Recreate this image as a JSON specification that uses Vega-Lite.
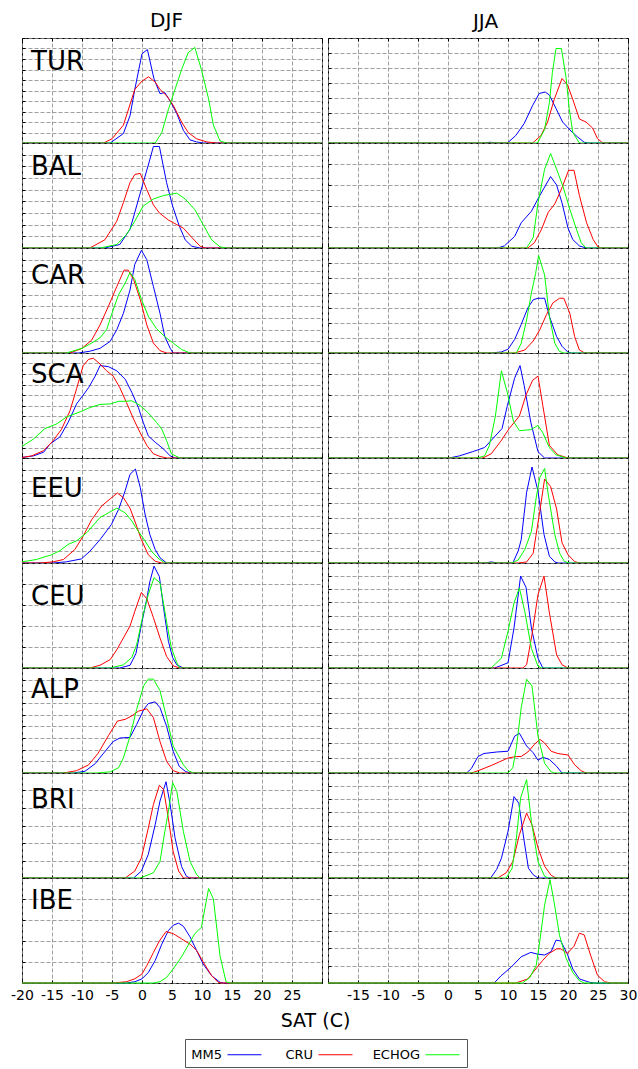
{
"$schema":"https://vega.github.io/schema/vega-lite/v6.json",
"padding":{"left":10,"top":9,"right":0,"bottom":0},
"background":"white",
"data":{"values":[
{"r":"TUR","s":"DJF","m":"MM5","x":-20,"y":0},{"r":"TUR","s":"DJF","m":"MM5","x":-5.3,"y":0},{"r":"TUR","s":"DJF","m":"MM5","x":-3.1,"y":0.9},{"r":"TUR","s":"DJF","m":"MM5","x":-2,"y":2.6},{"r":"TUR","s":"DJF","m":"MM5","x":-1.2,"y":5.1},{"r":"TUR","s":"DJF","m":"MM5","x":0,"y":8.5},{"r":"TUR","s":"DJF","m":"MM5","x":0.9,"y":8.9},{"r":"TUR","s":"DJF","m":"MM5","x":2,"y":6.1},{"r":"TUR","s":"DJF","m":"MM5","x":3,"y":4.7},{"r":"TUR","s":"DJF","m":"MM5","x":3.8,"y":4.8},{"r":"TUR","s":"DJF","m":"MM5","x":4.7,"y":4.0},{"r":"TUR","s":"DJF","m":"MM5","x":5.8,"y":2.8},{"r":"TUR","s":"DJF","m":"MM5","x":6.9,"y":1.2},{"r":"TUR","s":"DJF","m":"MM5","x":8,"y":0.3},{"r":"TUR","s":"DJF","m":"MM5","x":9.1,"y":0.1},{"r":"TUR","s":"DJF","m":"MM5","x":10.2,"y":0},{"r":"TUR","s":"DJF","m":"MM5","x":30,"y":0},
{"r":"TUR","s":"DJF","m":"CRU","x":-20,"y":0},{"r":"TUR","s":"DJF","m":"CRU","x":-6.4,"y":0},{"r":"TUR","s":"DJF","m":"CRU","x":-5,"y":0.4},{"r":"TUR","s":"DJF","m":"CRU","x":-3.1,"y":1.7},{"r":"TUR","s":"DJF","m":"CRU","x":-1.2,"y":5.1},{"r":"TUR","s":"DJF","m":"CRU","x":0,"y":5.9},{"r":"TUR","s":"DJF","m":"CRU","x":1.1,"y":6.3},{"r":"TUR","s":"DJF","m":"CRU","x":2.2,"y":5.8},{"r":"TUR","s":"DJF","m":"CRU","x":3,"y":5.1},{"r":"TUR","s":"DJF","m":"CRU","x":4.1,"y":4.5},{"r":"TUR","s":"DJF","m":"CRU","x":5.2,"y":3.6},{"r":"TUR","s":"DJF","m":"CRU","x":6.6,"y":2.0},{"r":"TUR","s":"DJF","m":"CRU","x":7.7,"y":1.0},{"r":"TUR","s":"DJF","m":"CRU","x":9.1,"y":0.4},{"r":"TUR","s":"DJF","m":"CRU","x":10.8,"y":0.1},{"r":"TUR","s":"DJF","m":"CRU","x":12.4,"y":0},{"r":"TUR","s":"DJF","m":"CRU","x":30,"y":0},
{"r":"TUR","s":"DJF","m":"ECHOG","x":-20,"y":0},{"r":"TUR","s":"DJF","m":"ECHOG","x":2.2,"y":0},{"r":"TUR","s":"DJF","m":"ECHOG","x":3.3,"y":1.0},{"r":"TUR","s":"DJF","m":"ECHOG","x":4.4,"y":3.2},{"r":"TUR","s":"DJF","m":"ECHOG","x":5.5,"y":5.1},{"r":"TUR","s":"DJF","m":"ECHOG","x":6.6,"y":7.0},{"r":"TUR","s":"DJF","m":"ECHOG","x":7.7,"y":8.6},{"r":"TUR","s":"DJF","m":"ECHOG","x":8.8,"y":9.1},{"r":"TUR","s":"DJF","m":"ECHOG","x":9.9,"y":7.0},{"r":"TUR","s":"DJF","m":"ECHOG","x":11.1,"y":4.2},{"r":"TUR","s":"DJF","m":"ECHOG","x":11.9,"y":1.7},{"r":"TUR","s":"DJF","m":"ECHOG","x":13,"y":0.2},{"r":"TUR","s":"DJF","m":"ECHOG","x":14.1,"y":0},{"r":"TUR","s":"DJF","m":"ECHOG","x":30,"y":0},

{"r":"TUR","s":"JJA","m":"MM5","x":-20,"y":0},{"r":"TUR","s":"JJA","m":"MM5","x":6,"y":0},{"r":"TUR","s":"JJA","m":"MM5","x":7,"y":0.05},{"r":"TUR","s":"JJA","m":"MM5","x":8,"y":0},{"r":"TUR","s":"JJA","m":"MM5","x":9.9,"y":0},{"r":"TUR","s":"JJA","m":"MM5","x":11.3,"y":0.5},{"r":"TUR","s":"JJA","m":"MM5","x":12.7,"y":1.3},{"r":"TUR","s":"JJA","m":"MM5","x":14.1,"y":2.5},{"r":"TUR","s":"JJA","m":"MM5","x":15.2,"y":3.3},{"r":"TUR","s":"JJA","m":"MM5","x":16.2,"y":3.4},{"r":"TUR","s":"JJA","m":"MM5","x":16.9,"y":3.2},{"r":"TUR","s":"JJA","m":"MM5","x":18,"y":2.3},{"r":"TUR","s":"JJA","m":"MM5","x":19.1,"y":1.4},{"r":"TUR","s":"JJA","m":"MM5","x":20.5,"y":0.8},{"r":"TUR","s":"JJA","m":"MM5","x":21.6,"y":0.4},{"r":"TUR","s":"JJA","m":"MM5","x":22.7,"y":0.05},{"r":"TUR","s":"JJA","m":"MM5","x":23.5,"y":0},{"r":"TUR","s":"JJA","m":"MM5","x":30,"y":0},
{"r":"TUR","s":"JJA","m":"CRU","x":-20,"y":0},{"r":"TUR","s":"JJA","m":"CRU","x":14.1,"y":0},{"r":"TUR","s":"JJA","m":"CRU","x":15.5,"y":0.5},{"r":"TUR","s":"JJA","m":"CRU","x":16.6,"y":1.4},{"r":"TUR","s":"JJA","m":"CRU","x":17.7,"y":2.9},{"r":"TUR","s":"JJA","m":"CRU","x":19,"y":4.3},{"r":"TUR","s":"JJA","m":"CRU","x":19.9,"y":3.9},{"r":"TUR","s":"JJA","m":"CRU","x":20.8,"y":2.9},{"r":"TUR","s":"JJA","m":"CRU","x":21.9,"y":1.6},{"r":"TUR","s":"JJA","m":"CRU","x":23,"y":1.4},{"r":"TUR","s":"JJA","m":"CRU","x":24.1,"y":1.0},{"r":"TUR","s":"JJA","m":"CRU","x":24.9,"y":0.3},{"r":"TUR","s":"JJA","m":"CRU","x":25.8,"y":0},{"r":"TUR","s":"JJA","m":"CRU","x":30,"y":0},
{"r":"TUR","s":"JJA","m":"ECHOG","x":-20,"y":0},{"r":"TUR","s":"JJA","m":"ECHOG","x":14.9,"y":0},{"r":"TUR","s":"JJA","m":"ECHOG","x":16.1,"y":0.9},{"r":"TUR","s":"JJA","m":"ECHOG","x":16.9,"y":2.7},{"r":"TUR","s":"JJA","m":"ECHOG","x":17.4,"y":4.7},{"r":"TUR","s":"JJA","m":"ECHOG","x":18,"y":6.3},{"r":"TUR","s":"JJA","m":"ECHOG","x":18.9,"y":6.3},{"r":"TUR","s":"JJA","m":"ECHOG","x":19.7,"y":4.3},{"r":"TUR","s":"JJA","m":"ECHOG","x":20.2,"y":2.3},{"r":"TUR","s":"JJA","m":"ECHOG","x":20.8,"y":0.7},{"r":"TUR","s":"JJA","m":"ECHOG","x":21.9,"y":0},{"r":"TUR","s":"JJA","m":"ECHOG","x":30,"y":0},

{"r":"BAL","s":"DJF","m":"MM5","x":-20,"y":0},{"r":"BAL","s":"DJF","m":"MM5","x":-6.2,"y":0},{"r":"BAL","s":"DJF","m":"MM5","x":-3.7,"y":0.3},{"r":"BAL","s":"DJF","m":"MM5","x":-2,"y":1.6},{"r":"BAL","s":"DJF","m":"MM5","x":-0.9,"y":3.6},{"r":"BAL","s":"DJF","m":"MM5","x":0.2,"y":5.6},{"r":"BAL","s":"DJF","m":"MM5","x":1.1,"y":7.2},{"r":"BAL","s":"DJF","m":"MM5","x":1.9,"y":8.7},{"r":"BAL","s":"DJF","m":"MM5","x":2.9,"y":8.7},{"r":"BAL","s":"DJF","m":"MM5","x":4.1,"y":5.6},{"r":"BAL","s":"DJF","m":"MM5","x":5.1,"y":3.6},{"r":"BAL","s":"DJF","m":"MM5","x":6.2,"y":1.9},{"r":"BAL","s":"DJF","m":"MM5","x":7.2,"y":0.7},{"r":"BAL","s":"DJF","m":"MM5","x":8.3,"y":0.15},{"r":"BAL","s":"DJF","m":"MM5","x":9.7,"y":0},{"r":"BAL","s":"DJF","m":"MM5","x":30,"y":0},
{"r":"BAL","s":"DJF","m":"CRU","x":-20,"y":0},{"r":"BAL","s":"DJF","m":"CRU","x":-8.7,"y":0},{"r":"BAL","s":"DJF","m":"CRU","x":-6.2,"y":0.7},{"r":"BAL","s":"DJF","m":"CRU","x":-4.2,"y":2.3},{"r":"BAL","s":"DJF","m":"CRU","x":-3.1,"y":3.9},{"r":"BAL","s":"DJF","m":"CRU","x":-2,"y":5.6},{"r":"BAL","s":"DJF","m":"CRU","x":-1.2,"y":6.3},{"r":"BAL","s":"DJF","m":"CRU","x":-0.3,"y":6.4},{"r":"BAL","s":"DJF","m":"CRU","x":0.8,"y":5.0},{"r":"BAL","s":"DJF","m":"CRU","x":1.9,"y":3.7},{"r":"BAL","s":"DJF","m":"CRU","x":2.9,"y":3.0},{"r":"BAL","s":"DJF","m":"CRU","x":4.4,"y":2.4},{"r":"BAL","s":"DJF","m":"CRU","x":5.8,"y":2.0},{"r":"BAL","s":"DJF","m":"CRU","x":6.9,"y":1.7},{"r":"BAL","s":"DJF","m":"CRU","x":8.3,"y":0.9},{"r":"BAL","s":"DJF","m":"CRU","x":9.7,"y":0.15},{"r":"BAL","s":"DJF","m":"CRU","x":10.5,"y":0},{"r":"BAL","s":"DJF","m":"CRU","x":30,"y":0},
{"r":"BAL","s":"DJF","m":"ECHOG","x":-20,"y":0},{"r":"BAL","s":"DJF","m":"ECHOG","x":-7,"y":0},{"r":"BAL","s":"DJF","m":"ECHOG","x":-4.2,"y":0.3},{"r":"BAL","s":"DJF","m":"ECHOG","x":-2.6,"y":1.15},{"r":"BAL","s":"DJF","m":"ECHOG","x":-1.2,"y":2.3},{"r":"BAL","s":"DJF","m":"ECHOG","x":0.2,"y":3.6},{"r":"BAL","s":"DJF","m":"ECHOG","x":1.9,"y":4.2},{"r":"BAL","s":"DJF","m":"ECHOG","x":3.6,"y":4.5},{"r":"BAL","s":"DJF","m":"ECHOG","x":5.8,"y":4.7},{"r":"BAL","s":"DJF","m":"ECHOG","x":7.2,"y":4.2},{"r":"BAL","s":"DJF","m":"ECHOG","x":8.8,"y":3.3},{"r":"BAL","s":"DJF","m":"ECHOG","x":10.2,"y":2.0},{"r":"BAL","s":"DJF","m":"ECHOG","x":11.6,"y":0.7},{"r":"BAL","s":"DJF","m":"ECHOG","x":13,"y":0.1},{"r":"BAL","s":"DJF","m":"ECHOG","x":14.1,"y":0},{"r":"BAL","s":"DJF","m":"ECHOG","x":30,"y":0},

{"r":"BAL","s":"JJA","m":"MM5","x":-20,"y":0},{"r":"BAL","s":"JJA","m":"MM5","x":8.3,"y":0},{"r":"BAL","s":"JJA","m":"MM5","x":9.4,"y":0.1},{"r":"BAL","s":"JJA","m":"MM5","x":11.1,"y":0.55},{"r":"BAL","s":"JJA","m":"MM5","x":12.2,"y":1.2},{"r":"BAL","s":"JJA","m":"MM5","x":13.9,"y":1.75},{"r":"BAL","s":"JJA","m":"MM5","x":15.3,"y":2.5},{"r":"BAL","s":"JJA","m":"MM5","x":16.2,"y":2.95},{"r":"BAL","s":"JJA","m":"MM5","x":17.1,"y":3.4},{"r":"BAL","s":"JJA","m":"MM5","x":18.1,"y":3.0},{"r":"BAL","s":"JJA","m":"MM5","x":19,"y":2.15},{"r":"BAL","s":"JJA","m":"MM5","x":20,"y":0.95},{"r":"BAL","s":"JJA","m":"MM5","x":20.8,"y":0.4},{"r":"BAL","s":"JJA","m":"MM5","x":21.9,"y":0.1},{"r":"BAL","s":"JJA","m":"MM5","x":23,"y":0},{"r":"BAL","s":"JJA","m":"MM5","x":30,"y":0},
{"r":"BAL","s":"JJA","m":"CRU","x":-20,"y":0},{"r":"BAL","s":"JJA","m":"CRU","x":13.3,"y":0},{"r":"BAL","s":"JJA","m":"CRU","x":14.4,"y":0.25},{"r":"BAL","s":"JJA","m":"CRU","x":15.6,"y":0.9},{"r":"BAL","s":"JJA","m":"CRU","x":16.7,"y":1.7},{"r":"BAL","s":"JJA","m":"CRU","x":17.8,"y":2.1},{"r":"BAL","s":"JJA","m":"CRU","x":18.9,"y":2.8},{"r":"BAL","s":"JJA","m":"CRU","x":20.1,"y":3.7},{"r":"BAL","s":"JJA","m":"CRU","x":21,"y":3.7},{"r":"BAL","s":"JJA","m":"CRU","x":21.9,"y":2.5},{"r":"BAL","s":"JJA","m":"CRU","x":23.1,"y":1.2},{"r":"BAL","s":"JJA","m":"CRU","x":24.2,"y":0.4},{"r":"BAL","s":"JJA","m":"CRU","x":25,"y":0.05},{"r":"BAL","s":"JJA","m":"CRU","x":25.6,"y":0},{"r":"BAL","s":"JJA","m":"CRU","x":30,"y":0},
{"r":"BAL","s":"JJA","m":"ECHOG","x":-20,"y":0},{"r":"BAL","s":"JJA","m":"ECHOG","x":13.1,"y":0},{"r":"BAL","s":"JJA","m":"ECHOG","x":14.2,"y":0.5},{"r":"BAL","s":"JJA","m":"ECHOG","x":15,"y":2.15},{"r":"BAL","s":"JJA","m":"ECHOG","x":16.1,"y":3.75},{"r":"BAL","s":"JJA","m":"ECHOG","x":17.1,"y":4.5},{"r":"BAL","s":"JJA","m":"ECHOG","x":18.1,"y":3.75},{"r":"BAL","s":"JJA","m":"ECHOG","x":19.2,"y":2.9},{"r":"BAL","s":"JJA","m":"ECHOG","x":20.3,"y":1.85},{"r":"BAL","s":"JJA","m":"ECHOG","x":21.4,"y":0.9},{"r":"BAL","s":"JJA","m":"ECHOG","x":22.2,"y":0.25},{"r":"BAL","s":"JJA","m":"ECHOG","x":23,"y":0},{"r":"BAL","s":"JJA","m":"ECHOG","x":30,"y":0},

{"r":"CAR","s":"DJF","m":"MM5","x":-20,"y":0},{"r":"CAR","s":"DJF","m":"MM5","x":-10.6,"y":0},{"r":"CAR","s":"DJF","m":"MM5","x":-8.7,"y":0.15},{"r":"CAR","s":"DJF","m":"MM5","x":-7,"y":0.4},{"r":"CAR","s":"DJF","m":"MM5","x":-5.3,"y":1.0},{"r":"CAR","s":"DJF","m":"MM5","x":-4.2,"y":2.0},{"r":"CAR","s":"DJF","m":"MM5","x":-3.1,"y":3.4},{"r":"CAR","s":"DJF","m":"MM5","x":-2,"y":5.4},{"r":"CAR","s":"DJF","m":"MM5","x":-1.2,"y":7.6},{"r":"CAR","s":"DJF","m":"MM5","x":-0.1,"y":8.8},{"r":"CAR","s":"DJF","m":"MM5","x":0.8,"y":8.0},{"r":"CAR","s":"DJF","m":"MM5","x":1.9,"y":5.7},{"r":"CAR","s":"DJF","m":"MM5","x":3,"y":3.4},{"r":"CAR","s":"DJF","m":"MM5","x":3.8,"y":1.4},{"r":"CAR","s":"DJF","m":"MM5","x":4.7,"y":0.4},{"r":"CAR","s":"DJF","m":"MM5","x":5.2,"y":0},{"r":"CAR","s":"DJF","m":"MM5","x":30,"y":0},
{"r":"CAR","s":"DJF","m":"CRU","x":-20,"y":0},{"r":"CAR","s":"DJF","m":"CRU","x":-12,"y":0},{"r":"CAR","s":"DJF","m":"CRU","x":-10,"y":0.4},{"r":"CAR","s":"DJF","m":"CRU","x":-8.4,"y":1.1},{"r":"CAR","s":"DJF","m":"CRU","x":-7,"y":2.4},{"r":"CAR","s":"DJF","m":"CRU","x":-5.6,"y":4.0},{"r":"CAR","s":"DJF","m":"CRU","x":-4.2,"y":5.7},{"r":"CAR","s":"DJF","m":"CRU","x":-3,"y":7.1},{"r":"CAR","s":"DJF","m":"CRU","x":-2.3,"y":7.1},{"r":"CAR","s":"DJF","m":"CRU","x":-1.4,"y":6.3},{"r":"CAR","s":"DJF","m":"CRU","x":-0.3,"y":4.6},{"r":"CAR","s":"DJF","m":"CRU","x":0.8,"y":2.4},{"r":"CAR","s":"DJF","m":"CRU","x":1.9,"y":0.85},{"r":"CAR","s":"DJF","m":"CRU","x":3,"y":0.2},{"r":"CAR","s":"DJF","m":"CRU","x":4.1,"y":0},{"r":"CAR","s":"DJF","m":"CRU","x":30,"y":0},
{"r":"CAR","s":"DJF","m":"ECHOG","x":-20,"y":0},{"r":"CAR","s":"DJF","m":"ECHOG","x":-12.6,"y":0},{"r":"CAR","s":"DJF","m":"ECHOG","x":-10,"y":0.4},{"r":"CAR","s":"DJF","m":"ECHOG","x":-8.4,"y":0.85},{"r":"CAR","s":"DJF","m":"ECHOG","x":-7,"y":1.3},{"r":"CAR","s":"DJF","m":"ECHOG","x":-5.9,"y":2.0},{"r":"CAR","s":"DJF","m":"ECHOG","x":-4.8,"y":3.7},{"r":"CAR","s":"DJF","m":"ECHOG","x":-3.9,"y":5.0},{"r":"CAR","s":"DJF","m":"ECHOG","x":-2.8,"y":6.0},{"r":"CAR","s":"DJF","m":"ECHOG","x":-2,"y":6.9},{"r":"CAR","s":"DJF","m":"ECHOG","x":-1.2,"y":6.3},{"r":"CAR","s":"DJF","m":"ECHOG","x":-0.1,"y":4.6},{"r":"CAR","s":"DJF","m":"ECHOG","x":1.1,"y":3.1},{"r":"CAR","s":"DJF","m":"ECHOG","x":2.4,"y":2.1},{"r":"CAR","s":"DJF","m":"ECHOG","x":3.8,"y":1.4},{"r":"CAR","s":"DJF","m":"ECHOG","x":5.2,"y":0.85},{"r":"CAR","s":"DJF","m":"ECHOG","x":6.6,"y":0.3},{"r":"CAR","s":"DJF","m":"ECHOG","x":8,"y":0},{"r":"CAR","s":"DJF","m":"ECHOG","x":30,"y":0},

{"r":"CAR","s":"JJA","m":"MM5","x":-20,"y":0},{"r":"CAR","s":"JJA","m":"MM5","x":7.2,"y":0},{"r":"CAR","s":"JJA","m":"MM5","x":8.9,"y":0.07},{"r":"CAR","s":"JJA","m":"MM5","x":10,"y":0.25},{"r":"CAR","s":"JJA","m":"MM5","x":11.1,"y":0.9},{"r":"CAR","s":"JJA","m":"MM5","x":12.2,"y":1.9},{"r":"CAR","s":"JJA","m":"MM5","x":13.3,"y":3.0},{"r":"CAR","s":"JJA","m":"MM5","x":14.2,"y":3.55},{"r":"CAR","s":"JJA","m":"MM5","x":15,"y":3.65},{"r":"CAR","s":"JJA","m":"MM5","x":16.1,"y":3.65},{"r":"CAR","s":"JJA","m":"MM5","x":16.9,"y":2.45},{"r":"CAR","s":"JJA","m":"MM5","x":18.1,"y":1.1},{"r":"CAR","s":"JJA","m":"MM5","x":19,"y":0.45},{"r":"CAR","s":"JJA","m":"MM5","x":20,"y":0.05},{"r":"CAR","s":"JJA","m":"MM5","x":20.6,"y":0},{"r":"CAR","s":"JJA","m":"MM5","x":30,"y":0},
{"r":"CAR","s":"JJA","m":"CRU","x":-20,"y":0},{"r":"CAR","s":"JJA","m":"CRU","x":11.1,"y":0},{"r":"CAR","s":"JJA","m":"CRU","x":12.8,"y":0.2},{"r":"CAR","s":"JJA","m":"CRU","x":14.2,"y":0.8},{"r":"CAR","s":"JJA","m":"CRU","x":15.3,"y":1.55},{"r":"CAR","s":"JJA","m":"CRU","x":16.4,"y":2.55},{"r":"CAR","s":"JJA","m":"CRU","x":17.5,"y":3.35},{"r":"CAR","s":"JJA","m":"CRU","x":18.6,"y":3.65},{"r":"CAR","s":"JJA","m":"CRU","x":19.3,"y":3.65},{"r":"CAR","s":"JJA","m":"CRU","x":20.3,"y":2.65},{"r":"CAR","s":"JJA","m":"CRU","x":21.1,"y":1.1},{"r":"CAR","s":"JJA","m":"CRU","x":21.9,"y":0.2},{"r":"CAR","s":"JJA","m":"CRU","x":22.8,"y":0},{"r":"CAR","s":"JJA","m":"CRU","x":30,"y":0},
{"r":"CAR","s":"JJA","m":"ECHOG","x":-20,"y":0},{"r":"CAR","s":"JJA","m":"ECHOG","x":11.4,"y":0},{"r":"CAR","s":"JJA","m":"ECHOG","x":12.2,"y":0.65},{"r":"CAR","s":"JJA","m":"ECHOG","x":13.1,"y":2.2},{"r":"CAR","s":"JJA","m":"ECHOG","x":13.9,"y":4.0},{"r":"CAR","s":"JJA","m":"ECHOG","x":14.6,"y":5.3},{"r":"CAR","s":"JJA","m":"ECHOG","x":15.1,"y":6.5},{"r":"CAR","s":"JJA","m":"ECHOG","x":16.1,"y":5.2},{"r":"CAR","s":"JJA","m":"ECHOG","x":16.9,"y":2.45},{"r":"CAR","s":"JJA","m":"ECHOG","x":17.8,"y":0.65},{"r":"CAR","s":"JJA","m":"ECHOG","x":18.6,"y":0.1},{"r":"CAR","s":"JJA","m":"ECHOG","x":19.4,"y":0},{"r":"CAR","s":"JJA","m":"ECHOG","x":30,"y":0},

{"r":"SCA","s":"DJF","m":"MM5","x":-20,"y":0.05},{"r":"SCA","s":"DJF","m":"MM5","x":-18.1,"y":0.2},{"r":"SCA","s":"DJF","m":"MM5","x":-16.4,"y":0.55},{"r":"SCA","s":"DJF","m":"MM5","x":-15.3,"y":1.35},{"r":"SCA","s":"DJF","m":"MM5","x":-13.7,"y":2.0},{"r":"SCA","s":"DJF","m":"MM5","x":-12.3,"y":3.4},{"r":"SCA","s":"DJF","m":"MM5","x":-10.9,"y":5.15},{"r":"SCA","s":"DJF","m":"MM5","x":-8.9,"y":6.7},{"r":"SCA","s":"DJF","m":"MM5","x":-7.8,"y":7.8},{"r":"SCA","s":"DJF","m":"MM5","x":-7,"y":8.8},{"r":"SCA","s":"DJF","m":"MM5","x":-5.6,"y":8.7},{"r":"SCA","s":"DJF","m":"MM5","x":-4.2,"y":8.3},{"r":"SCA","s":"DJF","m":"MM5","x":-2.8,"y":7.5},{"r":"SCA","s":"DJF","m":"MM5","x":-1.7,"y":6.25},{"r":"SCA","s":"DJF","m":"MM5","x":-0.6,"y":4.8},{"r":"SCA","s":"DJF","m":"MM5","x":0.2,"y":3.4},{"r":"SCA","s":"DJF","m":"MM5","x":1.05,"y":2.1},{"r":"SCA","s":"DJF","m":"MM5","x":2.2,"y":1.5},{"r":"SCA","s":"DJF","m":"MM5","x":3.6,"y":0.85},{"r":"SCA","s":"DJF","m":"MM5","x":4.7,"y":0.2},{"r":"SCA","s":"DJF","m":"MM5","x":5.5,"y":0},{"r":"SCA","s":"DJF","m":"MM5","x":30,"y":0},
{"r":"SCA","s":"DJF","m":"CRU","x":-20,"y":0.05},{"r":"SCA","s":"DJF","m":"CRU","x":-18.4,"y":0.2},{"r":"SCA","s":"DJF","m":"CRU","x":-16.4,"y":0.7},{"r":"SCA","s":"DJF","m":"CRU","x":-14.8,"y":1.65},{"r":"SCA","s":"DJF","m":"CRU","x":-13.4,"y":2.75},{"r":"SCA","s":"DJF","m":"CRU","x":-12,"y":4.5},{"r":"SCA","s":"DJF","m":"CRU","x":-10.9,"y":6.6},{"r":"SCA","s":"DJF","m":"CRU","x":-9.8,"y":8.8},{"r":"SCA","s":"DJF","m":"CRU","x":-8.9,"y":9.4},{"r":"SCA","s":"DJF","m":"CRU","x":-8.1,"y":9.5},{"r":"SCA","s":"DJF","m":"CRU","x":-7,"y":8.95},{"r":"SCA","s":"DJF","m":"CRU","x":-5.9,"y":8.3},{"r":"SCA","s":"DJF","m":"CRU","x":-4.8,"y":7.8},{"r":"SCA","s":"DJF","m":"CRU","x":-3.7,"y":6.7},{"r":"SCA","s":"DJF","m":"CRU","x":-2.6,"y":5.3},{"r":"SCA","s":"DJF","m":"CRU","x":-1.4,"y":3.7},{"r":"SCA","s":"DJF","m":"CRU","x":-0.3,"y":2.4},{"r":"SCA","s":"DJF","m":"CRU","x":0.8,"y":1.2},{"r":"SCA","s":"DJF","m":"CRU","x":1.9,"y":0.4},{"r":"SCA","s":"DJF","m":"CRU","x":3,"y":0.15},{"r":"SCA","s":"DJF","m":"CRU","x":4.1,"y":0},{"r":"SCA","s":"DJF","m":"CRU","x":30,"y":0},
{"r":"SCA","s":"DJF","m":"ECHOG","x":-20,"y":1.1},{"r":"SCA","s":"DJF","m":"ECHOG","x":-18.1,"y":1.8},{"r":"SCA","s":"DJF","m":"ECHOG","x":-16.2,"y":2.8},{"r":"SCA","s":"DJF","m":"ECHOG","x":-14.2,"y":3.25},{"r":"SCA","s":"DJF","m":"ECHOG","x":-12.6,"y":3.9},{"r":"SCA","s":"DJF","m":"ECHOG","x":-10.3,"y":4.4},{"r":"SCA","s":"DJF","m":"ECHOG","x":-8.7,"y":4.8},{"r":"SCA","s":"DJF","m":"ECHOG","x":-7,"y":5.1},{"r":"SCA","s":"DJF","m":"ECHOG","x":-5.3,"y":5.15},{"r":"SCA","s":"DJF","m":"ECHOG","x":-3.9,"y":5.4},{"r":"SCA","s":"DJF","m":"ECHOG","x":-2.8,"y":5.4},{"r":"SCA","s":"DJF","m":"ECHOG","x":-1.7,"y":5.45},{"r":"SCA","s":"DJF","m":"ECHOG","x":-0.3,"y":5.0},{"r":"SCA","s":"DJF","m":"ECHOG","x":1.05,"y":4.3},{"r":"SCA","s":"DJF","m":"ECHOG","x":2.4,"y":3.4},{"r":"SCA","s":"DJF","m":"ECHOG","x":3.3,"y":2.75},{"r":"SCA","s":"DJF","m":"ECHOG","x":4.1,"y":1.65},{"r":"SCA","s":"DJF","m":"ECHOG","x":4.9,"y":0.4},{"r":"SCA","s":"DJF","m":"ECHOG","x":6.3,"y":0},{"r":"SCA","s":"DJF","m":"ECHOG","x":30,"y":0},

{"r":"SCA","s":"JJA","m":"MM5","x":-20,"y":0},{"r":"SCA","s":"JJA","m":"MM5","x":0.2,"y":0},{"r":"SCA","s":"JJA","m":"MM5","x":1.9,"y":0.1},{"r":"SCA","s":"JJA","m":"MM5","x":4.1,"y":0.3},{"r":"SCA","s":"JJA","m":"MM5","x":6.1,"y":0.5},{"r":"SCA","s":"JJA","m":"MM5","x":7.4,"y":0.9},{"r":"SCA","s":"JJA","m":"MM5","x":9,"y":1.4},{"r":"SCA","s":"JJA","m":"MM5","x":9.9,"y":2.5},{"r":"SCA","s":"JJA","m":"MM5","x":11.1,"y":3.8},{"r":"SCA","s":"JJA","m":"MM5","x":12,"y":4.4},{"r":"SCA","s":"JJA","m":"MM5","x":12.7,"y":3.45},{"r":"SCA","s":"JJA","m":"MM5","x":13.8,"y":1.7},{"r":"SCA","s":"JJA","m":"MM5","x":15,"y":0.3},{"r":"SCA","s":"JJA","m":"MM5","x":16.1,"y":0},{"r":"SCA","s":"JJA","m":"MM5","x":30,"y":0},
{"r":"SCA","s":"JJA","m":"CRU","x":-20,"y":0},{"r":"SCA","s":"JJA","m":"CRU","x":5.8,"y":0},{"r":"SCA","s":"JJA","m":"CRU","x":7.2,"y":0.2},{"r":"SCA","s":"JJA","m":"CRU","x":8.8,"y":0.8},{"r":"SCA","s":"JJA","m":"CRU","x":10.2,"y":1.4},{"r":"SCA","s":"JJA","m":"CRU","x":11.9,"y":2.0},{"r":"SCA","s":"JJA","m":"CRU","x":13,"y":3.0},{"r":"SCA","s":"JJA","m":"CRU","x":14.1,"y":3.7},{"r":"SCA","s":"JJA","m":"CRU","x":15,"y":3.9},{"r":"SCA","s":"JJA","m":"CRU","x":15.8,"y":2.5},{"r":"SCA","s":"JJA","m":"CRU","x":16.9,"y":0.6},{"r":"SCA","s":"JJA","m":"CRU","x":18.3,"y":0.15},{"r":"SCA","s":"JJA","m":"CRU","x":20,"y":0},{"r":"SCA","s":"JJA","m":"CRU","x":30,"y":0},
{"r":"SCA","s":"JJA","m":"ECHOG","x":-20,"y":0},{"r":"SCA","s":"JJA","m":"ECHOG","x":4.9,"y":0},{"r":"SCA","s":"JJA","m":"ECHOG","x":6.1,"y":0.1},{"r":"SCA","s":"JJA","m":"ECHOG","x":6.9,"y":0.6},{"r":"SCA","s":"JJA","m":"ECHOG","x":7.9,"y":2.0},{"r":"SCA","s":"JJA","m":"ECHOG","x":8.9,"y":4.15},{"r":"SCA","s":"JJA","m":"ECHOG","x":9.9,"y":3.1},{"r":"SCA","s":"JJA","m":"ECHOG","x":10.9,"y":1.75},{"r":"SCA","s":"JJA","m":"ECHOG","x":11.9,"y":1.3},{"r":"SCA","s":"JJA","m":"ECHOG","x":13.8,"y":1.35},{"r":"SCA","s":"JJA","m":"ECHOG","x":15,"y":1.55},{"r":"SCA","s":"JJA","m":"ECHOG","x":15.8,"y":1.2},{"r":"SCA","s":"JJA","m":"ECHOG","x":16.9,"y":0.5},{"r":"SCA","s":"JJA","m":"ECHOG","x":18,"y":0.15},{"r":"SCA","s":"JJA","m":"ECHOG","x":19.7,"y":0},{"r":"SCA","s":"JJA","m":"ECHOG","x":30,"y":0},

{"r":"EEU","s":"DJF","m":"MM5","x":-20,"y":0},{"r":"EEU","s":"DJF","m":"MM5","x":-14.8,"y":0},{"r":"EEU","s":"DJF","m":"MM5","x":-12.6,"y":0.1},{"r":"EEU","s":"DJF","m":"MM5","x":-10.1,"y":0.35},{"r":"EEU","s":"DJF","m":"MM5","x":-8.7,"y":1.0},{"r":"EEU","s":"DJF","m":"MM5","x":-7,"y":2.0},{"r":"EEU","s":"DJF","m":"MM5","x":-5.1,"y":3.3},{"r":"EEU","s":"DJF","m":"MM5","x":-3.9,"y":4.6},{"r":"EEU","s":"DJF","m":"MM5","x":-2.8,"y":6.2},{"r":"EEU","s":"DJF","m":"MM5","x":-2,"y":7.6},{"r":"EEU","s":"DJF","m":"MM5","x":-1.1,"y":8.05},{"r":"EEU","s":"DJF","m":"MM5","x":-0.3,"y":6.5},{"r":"EEU","s":"DJF","m":"MM5","x":0.5,"y":4.2},{"r":"EEU","s":"DJF","m":"MM5","x":1.3,"y":2.45},{"r":"EEU","s":"DJF","m":"MM5","x":2.2,"y":1.15},{"r":"EEU","s":"DJF","m":"MM5","x":3,"y":0.45},{"r":"EEU","s":"DJF","m":"MM5","x":4.1,"y":0},{"r":"EEU","s":"DJF","m":"MM5","x":30,"y":0},
{"r":"EEU","s":"DJF","m":"CRU","x":-20,"y":0},{"r":"EEU","s":"DJF","m":"CRU","x":-17,"y":0},{"r":"EEU","s":"DJF","m":"CRU","x":-14.8,"y":0.1},{"r":"EEU","s":"DJF","m":"CRU","x":-13.1,"y":0.3},{"r":"EEU","s":"DJF","m":"CRU","x":-11.2,"y":1.15},{"r":"EEU","s":"DJF","m":"CRU","x":-9.8,"y":2.3},{"r":"EEU","s":"DJF","m":"CRU","x":-8.4,"y":3.7},{"r":"EEU","s":"DJF","m":"CRU","x":-6.7,"y":4.9},{"r":"EEU","s":"DJF","m":"CRU","x":-5.3,"y":5.5},{"r":"EEU","s":"DJF","m":"CRU","x":-4.1,"y":6.0},{"r":"EEU","s":"DJF","m":"CRU","x":-3.1,"y":5.6},{"r":"EEU","s":"DJF","m":"CRU","x":-2,"y":4.7},{"r":"EEU","s":"DJF","m":"CRU","x":-1.2,"y":3.6},{"r":"EEU","s":"DJF","m":"CRU","x":-0.1,"y":2.0},{"r":"EEU","s":"DJF","m":"CRU","x":1.05,"y":0.7},{"r":"EEU","s":"DJF","m":"CRU","x":2.2,"y":0.15},{"r":"EEU","s":"DJF","m":"CRU","x":3.3,"y":0},{"r":"EEU","s":"DJF","m":"CRU","x":30,"y":0},
{"r":"EEU","s":"DJF","m":"ECHOG","x":-20,"y":0.1},{"r":"EEU","s":"DJF","m":"ECHOG","x":-17.6,"y":0.3},{"r":"EEU","s":"DJF","m":"ECHOG","x":-15.1,"y":0.7},{"r":"EEU","s":"DJF","m":"ECHOG","x":-13.7,"y":1.05},{"r":"EEU","s":"DJF","m":"ECHOG","x":-12.3,"y":1.6},{"r":"EEU","s":"DJF","m":"ECHOG","x":-10.9,"y":1.9},{"r":"EEU","s":"DJF","m":"ECHOG","x":-9.2,"y":2.6},{"r":"EEU","s":"DJF","m":"ECHOG","x":-7,"y":3.9},{"r":"EEU","s":"DJF","m":"ECHOG","x":-5.6,"y":4.3},{"r":"EEU","s":"DJF","m":"ECHOG","x":-4.2,"y":4.7},{"r":"EEU","s":"DJF","m":"ECHOG","x":-2.8,"y":4.3},{"r":"EEU","s":"DJF","m":"ECHOG","x":-1.7,"y":3.6},{"r":"EEU","s":"DJF","m":"ECHOG","x":-0.6,"y":2.7},{"r":"EEU","s":"DJF","m":"ECHOG","x":0.5,"y":1.9},{"r":"EEU","s":"DJF","m":"ECHOG","x":1.6,"y":1.0},{"r":"EEU","s":"DJF","m":"ECHOG","x":2.7,"y":0.4},{"r":"EEU","s":"DJF","m":"ECHOG","x":3.8,"y":0},{"r":"EEU","s":"DJF","m":"ECHOG","x":30,"y":0},

{"r":"EEU","s":"JJA","m":"MM5","x":-20,"y":0},{"r":"EEU","s":"JJA","m":"MM5","x":6.1,"y":0},{"r":"EEU","s":"JJA","m":"MM5","x":7.2,"y":0.07},{"r":"EEU","s":"JJA","m":"MM5","x":8.3,"y":0},{"r":"EEU","s":"JJA","m":"MM5","x":10.8,"y":0},{"r":"EEU","s":"JJA","m":"MM5","x":11.7,"y":0.8},{"r":"EEU","s":"JJA","m":"MM5","x":12.2,"y":1.55},{"r":"EEU","s":"JJA","m":"MM5","x":13.1,"y":4.7},{"r":"EEU","s":"JJA","m":"MM5","x":14,"y":6.4},{"r":"EEU","s":"JJA","m":"MM5","x":15,"y":4.8},{"r":"EEU","s":"JJA","m":"MM5","x":16,"y":1.9},{"r":"EEU","s":"JJA","m":"MM5","x":16.9,"y":0.45},{"r":"EEU","s":"JJA","m":"MM5","x":17.8,"y":0.07},{"r":"EEU","s":"JJA","m":"MM5","x":18.4,"y":0},{"r":"EEU","s":"JJA","m":"MM5","x":30,"y":0},
{"r":"EEU","s":"JJA","m":"CRU","x":-20,"y":0},{"r":"EEU","s":"JJA","m":"CRU","x":11.7,"y":0},{"r":"EEU","s":"JJA","m":"CRU","x":13.1,"y":0.07},{"r":"EEU","s":"JJA","m":"CRU","x":14.2,"y":0.65},{"r":"EEU","s":"JJA","m":"CRU","x":15.3,"y":3.45},{"r":"EEU","s":"JJA","m":"CRU","x":16.1,"y":5.6},{"r":"EEU","s":"JJA","m":"CRU","x":17.1,"y":5.1},{"r":"EEU","s":"JJA","m":"CRU","x":18.1,"y":3.6},{"r":"EEU","s":"JJA","m":"CRU","x":19,"y":1.35},{"r":"EEU","s":"JJA","m":"CRU","x":20,"y":0.55},{"r":"EEU","s":"JJA","m":"CRU","x":21.1,"y":0.1},{"r":"EEU","s":"JJA","m":"CRU","x":21.9,"y":0},{"r":"EEU","s":"JJA","m":"CRU","x":30,"y":0},
{"r":"EEU","s":"JJA","m":"ECHOG","x":-20,"y":0},{"r":"EEU","s":"JJA","m":"ECHOG","x":10.6,"y":0},{"r":"EEU","s":"JJA","m":"ECHOG","x":11.7,"y":0.2},{"r":"EEU","s":"JJA","m":"ECHOG","x":12.8,"y":0.9},{"r":"EEU","s":"JJA","m":"ECHOG","x":13.9,"y":2.1},{"r":"EEU","s":"JJA","m":"ECHOG","x":14.7,"y":4.35},{"r":"EEU","s":"JJA","m":"ECHOG","x":15.3,"y":5.7},{"r":"EEU","s":"JJA","m":"ECHOG","x":16.1,"y":6.3},{"r":"EEU","s":"JJA","m":"ECHOG","x":16.7,"y":4.6},{"r":"EEU","s":"JJA","m":"ECHOG","x":17.8,"y":1.9},{"r":"EEU","s":"JJA","m":"ECHOG","x":18.6,"y":0.65},{"r":"EEU","s":"JJA","m":"ECHOG","x":19.4,"y":0.1},{"r":"EEU","s":"JJA","m":"ECHOG","x":20.3,"y":0},{"r":"EEU","s":"JJA","m":"ECHOG","x":30,"y":0},

{"r":"CEU","s":"DJF","m":"MM5","x":-20,"y":0},{"r":"CEU","s":"DJF","m":"MM5","x":-3.7,"y":0},{"r":"CEU","s":"DJF","m":"MM5","x":-2,"y":0.13},{"r":"CEU","s":"DJF","m":"MM5","x":-1,"y":0.7},{"r":"CEU","s":"DJF","m":"MM5","x":-0.1,"y":2.05},{"r":"CEU","s":"DJF","m":"MM5","x":0.8,"y":3.3},{"r":"CEU","s":"DJF","m":"MM5","x":1.3,"y":4.1},{"r":"CEU","s":"DJF","m":"MM5","x":2,"y":4.85},{"r":"CEU","s":"DJF","m":"MM5","x":2.9,"y":4.35},{"r":"CEU","s":"DJF","m":"MM5","x":3.6,"y":2.85},{"r":"CEU","s":"DJF","m":"MM5","x":4.4,"y":1.27},{"r":"CEU","s":"DJF","m":"MM5","x":5.1,"y":0.5},{"r":"CEU","s":"DJF","m":"MM5","x":5.8,"y":0.15},{"r":"CEU","s":"DJF","m":"MM5","x":6.9,"y":0},{"r":"CEU","s":"DJF","m":"MM5","x":30,"y":0},
{"r":"CEU","s":"DJF","m":"CRU","x":-20,"y":0},{"r":"CEU","s":"DJF","m":"CRU","x":-8.7,"y":0},{"r":"CEU","s":"DJF","m":"CRU","x":-7,"y":0.13},{"r":"CEU","s":"DJF","m":"CRU","x":-5.3,"y":0.4},{"r":"CEU","s":"DJF","m":"CRU","x":-4.2,"y":0.87},{"r":"CEU","s":"DJF","m":"CRU","x":-3.1,"y":1.43},{"r":"CEU","s":"DJF","m":"CRU","x":-2,"y":2.0},{"r":"CEU","s":"DJF","m":"CRU","x":-1.2,"y":2.7},{"r":"CEU","s":"DJF","m":"CRU","x":-0.1,"y":3.6},{"r":"CEU","s":"DJF","m":"CRU","x":0.8,"y":3.3},{"r":"CEU","s":"DJF","m":"CRU","x":1.9,"y":2.4},{"r":"CEU","s":"DJF","m":"CRU","x":3,"y":1.43},{"r":"CEU","s":"DJF","m":"CRU","x":4.1,"y":0.55},{"r":"CEU","s":"DJF","m":"CRU","x":5.2,"y":0.1},{"r":"CEU","s":"DJF","m":"CRU","x":6.3,"y":0},{"r":"CEU","s":"DJF","m":"CRU","x":30,"y":0},
{"r":"CEU","s":"DJF","m":"ECHOG","x":-20,"y":0},{"r":"CEU","s":"DJF","m":"ECHOG","x":-5.3,"y":0},{"r":"CEU","s":"DJF","m":"ECHOG","x":-3.1,"y":0.15},{"r":"CEU","s":"DJF","m":"ECHOG","x":-1.7,"y":0.5},{"r":"CEU","s":"DJF","m":"ECHOG","x":-0.9,"y":1.1},{"r":"CEU","s":"DJF","m":"ECHOG","x":0.2,"y":2.55},{"r":"CEU","s":"DJF","m":"ECHOG","x":1.05,"y":3.5},{"r":"CEU","s":"DJF","m":"ECHOG","x":2,"y":4.3},{"r":"CEU","s":"DJF","m":"ECHOG","x":3,"y":4.05},{"r":"CEU","s":"DJF","m":"ECHOG","x":4.1,"y":2.2},{"r":"CEU","s":"DJF","m":"ECHOG","x":4.9,"y":0.95},{"r":"CEU","s":"DJF","m":"ECHOG","x":5.8,"y":0.25},{"r":"CEU","s":"DJF","m":"ECHOG","x":6.3,"y":0},{"r":"CEU","s":"DJF","m":"ECHOG","x":30,"y":0},

{"r":"CEU","s":"JJA","m":"MM5","x":-20,"y":0},{"r":"CEU","s":"JJA","m":"MM5","x":7.8,"y":0},{"r":"CEU","s":"JJA","m":"MM5","x":10,"y":0.4},{"r":"CEU","s":"JJA","m":"MM5","x":11,"y":3.05},{"r":"CEU","s":"JJA","m":"MM5","x":12.1,"y":7.0},{"r":"CEU","s":"JJA","m":"MM5","x":13,"y":6.15},{"r":"CEU","s":"JJA","m":"MM5","x":13.9,"y":3.05},{"r":"CEU","s":"JJA","m":"MM5","x":15,"y":0.75},{"r":"CEU","s":"JJA","m":"MM5","x":15.8,"y":0},{"r":"CEU","s":"JJA","m":"MM5","x":30,"y":0},
{"r":"CEU","s":"JJA","m":"CRU","x":-20,"y":0},{"r":"CEU","s":"JJA","m":"CRU","x":12.5,"y":0},{"r":"CEU","s":"JJA","m":"CRU","x":13.1,"y":0.25},{"r":"CEU","s":"JJA","m":"CRU","x":14,"y":2.55},{"r":"CEU","s":"JJA","m":"CRU","x":15,"y":5.6},{"r":"CEU","s":"JJA","m":"CRU","x":16,"y":7.0},{"r":"CEU","s":"JJA","m":"CRU","x":16.9,"y":4.2},{"r":"CEU","s":"JJA","m":"CRU","x":18.1,"y":1.0},{"r":"CEU","s":"JJA","m":"CRU","x":19,"y":0.25},{"r":"CEU","s":"JJA","m":"CRU","x":20,"y":0},{"r":"CEU","s":"JJA","m":"CRU","x":30,"y":0},
{"r":"CEU","s":"JJA","m":"ECHOG","x":-20,"y":0},{"r":"CEU","s":"JJA","m":"ECHOG","x":7.2,"y":0},{"r":"CEU","s":"JJA","m":"ECHOG","x":8.9,"y":0.75},{"r":"CEU","s":"JJA","m":"ECHOG","x":10,"y":2.8},{"r":"CEU","s":"JJA","m":"ECHOG","x":11,"y":4.95},{"r":"CEU","s":"JJA","m":"ECHOG","x":11.9,"y":6.1},{"r":"CEU","s":"JJA","m":"ECHOG","x":12.8,"y":4.3},{"r":"CEU","s":"JJA","m":"ECHOG","x":13.9,"y":1.5},{"r":"CEU","s":"JJA","m":"ECHOG","x":15,"y":0.13},{"r":"CEU","s":"JJA","m":"ECHOG","x":15.6,"y":0},{"r":"CEU","s":"JJA","m":"ECHOG","x":30,"y":0},

{"r":"ALP","s":"DJF","m":"MM5","x":-20,"y":0},{"r":"ALP","s":"DJF","m":"MM5","x":-11.4,"y":0},{"r":"ALP","s":"DJF","m":"MM5","x":-9.5,"y":0.15},{"r":"ALP","s":"DJF","m":"MM5","x":-7.8,"y":0.8},{"r":"ALP","s":"DJF","m":"MM5","x":-6.4,"y":1.7},{"r":"ALP","s":"DJF","m":"MM5","x":-4.8,"y":2.7},{"r":"ALP","s":"DJF","m":"MM5","x":-3.7,"y":3.0},{"r":"ALP","s":"DJF","m":"MM5","x":-2,"y":3.05},{"r":"ALP","s":"DJF","m":"MM5","x":-0.9,"y":4.15},{"r":"ALP","s":"DJF","m":"MM5","x":0.3,"y":5.45},{"r":"ALP","s":"DJF","m":"MM5","x":1.05,"y":5.95},{"r":"ALP","s":"DJF","m":"MM5","x":2.2,"y":6.1},{"r":"ALP","s":"DJF","m":"MM5","x":3,"y":5.6},{"r":"ALP","s":"DJF","m":"MM5","x":4.1,"y":4.0},{"r":"ALP","s":"DJF","m":"MM5","x":5.2,"y":1.85},{"r":"ALP","s":"DJF","m":"MM5","x":6.2,"y":0.57},{"r":"ALP","s":"DJF","m":"MM5","x":7.2,"y":0.15},{"r":"ALP","s":"DJF","m":"MM5","x":8,"y":0},{"r":"ALP","s":"DJF","m":"MM5","x":30,"y":0},
{"r":"ALP","s":"DJF","m":"CRU","x":-20,"y":0},{"r":"ALP","s":"DJF","m":"CRU","x":-13.1,"y":0},{"r":"ALP","s":"DJF","m":"CRU","x":-10.9,"y":0.2},{"r":"ALP","s":"DJF","m":"CRU","x":-8.9,"y":0.7},{"r":"ALP","s":"DJF","m":"CRU","x":-7.3,"y":1.7},{"r":"ALP","s":"DJF","m":"CRU","x":-5.6,"y":3.2},{"r":"ALP","s":"DJF","m":"CRU","x":-4.1,"y":4.45},{"r":"ALP","s":"DJF","m":"CRU","x":-2.8,"y":4.6},{"r":"ALP","s":"DJF","m":"CRU","x":-1.7,"y":4.9},{"r":"ALP","s":"DJF","m":"CRU","x":-0.6,"y":5.3},{"r":"ALP","s":"DJF","m":"CRU","x":0.8,"y":5.5},{"r":"ALP","s":"DJF","m":"CRU","x":1.9,"y":4.75},{"r":"ALP","s":"DJF","m":"CRU","x":3,"y":2.7},{"r":"ALP","s":"DJF","m":"CRU","x":4.1,"y":1.0},{"r":"ALP","s":"DJF","m":"CRU","x":5.2,"y":0.2},{"r":"ALP","s":"DJF","m":"CRU","x":6.3,"y":0},{"r":"ALP","s":"DJF","m":"CRU","x":30,"y":0},
{"r":"ALP","s":"DJF","m":"ECHOG","x":-20,"y":0},{"r":"ALP","s":"DJF","m":"ECHOG","x":-7.6,"y":0},{"r":"ALP","s":"DJF","m":"ECHOG","x":-5.3,"y":0.1},{"r":"ALP","s":"DJF","m":"ECHOG","x":-3.9,"y":0.45},{"r":"ALP","s":"DJF","m":"ECHOG","x":-3.1,"y":1.3},{"r":"ALP","s":"DJF","m":"ECHOG","x":-2,"y":3.15},{"r":"ALP","s":"DJF","m":"ECHOG","x":-0.9,"y":5.45},{"r":"ALP","s":"DJF","m":"ECHOG","x":0.3,"y":7.5},{"r":"ALP","s":"DJF","m":"ECHOG","x":1.05,"y":8.05},{"r":"ALP","s":"DJF","m":"ECHOG","x":1.9,"y":8.05},{"r":"ALP","s":"DJF","m":"ECHOG","x":3,"y":7.05},{"r":"ALP","s":"DJF","m":"ECHOG","x":4.1,"y":4.75},{"r":"ALP","s":"DJF","m":"ECHOG","x":5.2,"y":2.3},{"r":"ALP","s":"DJF","m":"ECHOG","x":6.9,"y":0.7},{"r":"ALP","s":"DJF","m":"ECHOG","x":7.7,"y":0.2},{"r":"ALP","s":"DJF","m":"ECHOG","x":8.6,"y":0},{"r":"ALP","s":"DJF","m":"ECHOG","x":30,"y":0},

{"r":"ALP","s":"JJA","m":"MM5","x":-20,"y":0},{"r":"ALP","s":"JJA","m":"MM5","x":3.1,"y":0},{"r":"ALP","s":"JJA","m":"MM5","x":3.9,"y":0.3},{"r":"ALP","s":"JJA","m":"MM5","x":5,"y":1.1},{"r":"ALP","s":"JJA","m":"MM5","x":6,"y":1.3},{"r":"ALP","s":"JJA","m":"MM5","x":8.1,"y":1.4},{"r":"ALP","s":"JJA","m":"MM5","x":10,"y":1.45},{"r":"ALP","s":"JJA","m":"MM5","x":11.1,"y":2.45},{"r":"ALP","s":"JJA","m":"MM5","x":11.9,"y":2.65},{"r":"ALP","s":"JJA","m":"MM5","x":13.1,"y":1.8},{"r":"ALP","s":"JJA","m":"MM5","x":14.2,"y":1.35},{"r":"ALP","s":"JJA","m":"MM5","x":15,"y":0.85},{"r":"ALP","s":"JJA","m":"MM5","x":15.8,"y":1.05},{"r":"ALP","s":"JJA","m":"MM5","x":16.9,"y":0.9},{"r":"ALP","s":"JJA","m":"MM5","x":18.1,"y":0.45},{"r":"ALP","s":"JJA","m":"MM5","x":19,"y":0},{"r":"ALP","s":"JJA","m":"MM5","x":30,"y":0},
{"r":"ALP","s":"JJA","m":"CRU","x":-20,"y":0},{"r":"ALP","s":"JJA","m":"CRU","x":3.9,"y":0},{"r":"ALP","s":"JJA","m":"CRU","x":5,"y":0.15},{"r":"ALP","s":"JJA","m":"CRU","x":7.2,"y":0.5},{"r":"ALP","s":"JJA","m":"CRU","x":10,"y":1.0},{"r":"ALP","s":"JJA","m":"CRU","x":11.4,"y":1.1},{"r":"ALP","s":"JJA","m":"CRU","x":12.2,"y":1.1},{"r":"ALP","s":"JJA","m":"CRU","x":13.3,"y":1.4},{"r":"ALP","s":"JJA","m":"CRU","x":14.4,"y":1.9},{"r":"ALP","s":"JJA","m":"CRU","x":15.3,"y":2.25},{"r":"ALP","s":"JJA","m":"CRU","x":16.1,"y":2.0},{"r":"ALP","s":"JJA","m":"CRU","x":17.2,"y":1.45},{"r":"ALP","s":"JJA","m":"CRU","x":18.3,"y":1.3},{"r":"ALP","s":"JJA","m":"CRU","x":20,"y":1.2},{"r":"ALP","s":"JJA","m":"CRU","x":21.1,"y":0.55},{"r":"ALP","s":"JJA","m":"CRU","x":22.2,"y":0.15},{"r":"ALP","s":"JJA","m":"CRU","x":23,"y":0},{"r":"ALP","s":"JJA","m":"CRU","x":30,"y":0},
{"r":"ALP","s":"JJA","m":"ECHOG","x":-20,"y":0},{"r":"ALP","s":"JJA","m":"ECHOG","x":10,"y":0},{"r":"ALP","s":"JJA","m":"ECHOG","x":10.8,"y":0.35},{"r":"ALP","s":"JJA","m":"ECHOG","x":11.4,"y":1.7},{"r":"ALP","s":"JJA","m":"ECHOG","x":12.2,"y":4.35},{"r":"ALP","s":"JJA","m":"ECHOG","x":13.1,"y":6.25},{"r":"ALP","s":"JJA","m":"ECHOG","x":14,"y":5.8},{"r":"ALP","s":"JJA","m":"ECHOG","x":15,"y":2.45},{"r":"ALP","s":"JJA","m":"ECHOG","x":16.1,"y":0.65},{"r":"ALP","s":"JJA","m":"ECHOG","x":17.2,"y":0.07},{"r":"ALP","s":"JJA","m":"ECHOG","x":17.8,"y":0},{"r":"ALP","s":"JJA","m":"ECHOG","x":30,"y":0},

{"r":"BRI","s":"DJF","m":"MM5","x":-20,"y":0},{"r":"BRI","s":"DJF","m":"MM5","x":-1.4,"y":0},{"r":"BRI","s":"DJF","m":"MM5","x":-0.1,"y":0.4},{"r":"BRI","s":"DJF","m":"MM5","x":1.05,"y":1.35},{"r":"BRI","s":"DJF","m":"MM5","x":2.2,"y":3.05},{"r":"BRI","s":"DJF","m":"MM5","x":3,"y":4.4},{"r":"BRI","s":"DJF","m":"MM5","x":4,"y":5.5},{"r":"BRI","s":"DJF","m":"MM5","x":4.7,"y":4.2},{"r":"BRI","s":"DJF","m":"MM5","x":5.5,"y":2.3},{"r":"BRI","s":"DJF","m":"MM5","x":6.6,"y":0.65},{"r":"BRI","s":"DJF","m":"MM5","x":7.4,"y":0.1},{"r":"BRI","s":"DJF","m":"MM5","x":8,"y":0},{"r":"BRI","s":"DJF","m":"MM5","x":30,"y":0},
{"r":"BRI","s":"DJF","m":"CRU","x":-20,"y":0},{"r":"BRI","s":"DJF","m":"CRU","x":-2.8,"y":0},{"r":"BRI","s":"DJF","m":"CRU","x":-1.2,"y":0.4},{"r":"BRI","s":"DJF","m":"CRU","x":-0.1,"y":1.15},{"r":"BRI","s":"DJF","m":"CRU","x":1.05,"y":2.85},{"r":"BRI","s":"DJF","m":"CRU","x":1.9,"y":4.2},{"r":"BRI","s":"DJF","m":"CRU","x":2.9,"y":5.3},{"r":"BRI","s":"DJF","m":"CRU","x":3.6,"y":5.05},{"r":"BRI","s":"DJF","m":"CRU","x":4.4,"y":3.4},{"r":"BRI","s":"DJF","m":"CRU","x":5.2,"y":1.5},{"r":"BRI","s":"DJF","m":"CRU","x":6.1,"y":0.4},{"r":"BRI","s":"DJF","m":"CRU","x":6.9,"y":0},{"r":"BRI","s":"DJF","m":"CRU","x":30,"y":0},
{"r":"BRI","s":"DJF","m":"ECHOG","x":-20,"y":0},{"r":"BRI","s":"DJF","m":"ECHOG","x":-0.3,"y":0},{"r":"BRI","s":"DJF","m":"ECHOG","x":1.9,"y":0.3},{"r":"BRI","s":"DJF","m":"ECHOG","x":3,"y":0.95},{"r":"BRI","s":"DJF","m":"ECHOG","x":3.8,"y":2.65},{"r":"BRI","s":"DJF","m":"ECHOG","x":4.4,"y":3.8},{"r":"BRI","s":"DJF","m":"ECHOG","x":5.1,"y":5.45},{"r":"BRI","s":"DJF","m":"ECHOG","x":5.8,"y":4.95},{"r":"BRI","s":"DJF","m":"ECHOG","x":6.9,"y":2.65},{"r":"BRI","s":"DJF","m":"ECHOG","x":8,"y":0.95},{"r":"BRI","s":"DJF","m":"ECHOG","x":9.1,"y":0.2},{"r":"BRI","s":"DJF","m":"ECHOG","x":9.7,"y":0},{"r":"BRI","s":"DJF","m":"ECHOG","x":30,"y":0},

{"r":"BRI","s":"JJA","m":"MM5","x":-20,"y":0},{"r":"BRI","s":"JJA","m":"MM5","x":7.1,"y":0},{"r":"BRI","s":"JJA","m":"MM5","x":8.1,"y":0.65},{"r":"BRI","s":"JJA","m":"MM5","x":8.9,"y":1.5},{"r":"BRI","s":"JJA","m":"MM5","x":10,"y":3.55},{"r":"BRI","s":"JJA","m":"MM5","x":11,"y":6.2},{"r":"BRI","s":"JJA","m":"MM5","x":11.8,"y":5.7},{"r":"BRI","s":"JJA","m":"MM5","x":12.7,"y":2.8},{"r":"BRI","s":"JJA","m":"MM5","x":13.4,"y":0.75},{"r":"BRI","s":"JJA","m":"MM5","x":14.2,"y":0.25},{"r":"BRI","s":"JJA","m":"MM5","x":15,"y":0},{"r":"BRI","s":"JJA","m":"MM5","x":30,"y":0},
{"r":"BRI","s":"JJA","m":"CRU","x":-20,"y":0},{"r":"BRI","s":"JJA","m":"CRU","x":8.3,"y":0},{"r":"BRI","s":"JJA","m":"CRU","x":9.7,"y":0.4},{"r":"BRI","s":"JJA","m":"CRU","x":10.8,"y":1.25},{"r":"BRI","s":"JJA","m":"CRU","x":11.9,"y":3.3},{"r":"BRI","s":"JJA","m":"CRU","x":13.1,"y":4.95},{"r":"BRI","s":"JJA","m":"CRU","x":14,"y":4.05},{"r":"BRI","s":"JJA","m":"CRU","x":15,"y":2.3},{"r":"BRI","s":"JJA","m":"CRU","x":16.1,"y":0.9},{"r":"BRI","s":"JJA","m":"CRU","x":17.2,"y":0.2},{"r":"BRI","s":"JJA","m":"CRU","x":18,"y":0},{"r":"BRI","s":"JJA","m":"CRU","x":30,"y":0},
{"r":"BRI","s":"JJA","m":"ECHOG","x":-20,"y":0},{"r":"BRI","s":"JJA","m":"ECHOG","x":9.7,"y":0},{"r":"BRI","s":"JJA","m":"ECHOG","x":10.7,"y":0.75},{"r":"BRI","s":"JJA","m":"ECHOG","x":11.4,"y":3.05},{"r":"BRI","s":"JJA","m":"ECHOG","x":12.1,"y":6.1},{"r":"BRI","s":"JJA","m":"ECHOG","x":13.1,"y":7.5},{"r":"BRI","s":"JJA","m":"ECHOG","x":13.9,"y":4.3},{"r":"BRI","s":"JJA","m":"ECHOG","x":15,"y":1.25},{"r":"BRI","s":"JJA","m":"ECHOG","x":16.1,"y":0.13},{"r":"BRI","s":"JJA","m":"ECHOG","x":16.7,"y":0},{"r":"BRI","s":"JJA","m":"ECHOG","x":30,"y":0},

{"r":"IBE","s":"DJF","m":"MM5","x":-20,"y":0},{"r":"IBE","s":"DJF","m":"MM5","x":-2.6,"y":0},{"r":"IBE","s":"DJF","m":"MM5","x":-1.2,"y":0.06},{"r":"IBE","s":"DJF","m":"MM5","x":0,"y":0.2},{"r":"IBE","s":"DJF","m":"MM5","x":1.05,"y":0.5},{"r":"IBE","s":"DJF","m":"MM5","x":2.2,"y":1.07},{"r":"IBE","s":"DJF","m":"MM5","x":3.3,"y":1.85},{"r":"IBE","s":"DJF","m":"MM5","x":4.4,"y":2.5},{"r":"IBE","s":"DJF","m":"MM5","x":5.2,"y":2.75},{"r":"IBE","s":"DJF","m":"MM5","x":6.1,"y":2.85},{"r":"IBE","s":"DJF","m":"MM5","x":6.9,"y":2.7},{"r":"IBE","s":"DJF","m":"MM5","x":8,"y":2.2},{"r":"IBE","s":"DJF","m":"MM5","x":9.1,"y":1.55},{"r":"IBE","s":"DJF","m":"MM5","x":10.2,"y":0.9},{"r":"IBE","s":"DJF","m":"MM5","x":11.6,"y":0.35},{"r":"IBE","s":"DJF","m":"MM5","x":13,"y":0.03},{"r":"IBE","s":"DJF","m":"MM5","x":13.6,"y":0},{"r":"IBE","s":"DJF","m":"MM5","x":30,"y":0},
{"r":"IBE","s":"DJF","m":"CRU","x":-20,"y":0},{"r":"IBE","s":"DJF","m":"CRU","x":-4.8,"y":0},{"r":"IBE","s":"DJF","m":"CRU","x":-2.6,"y":0.06},{"r":"IBE","s":"DJF","m":"CRU","x":-1.2,"y":0.2},{"r":"IBE","s":"DJF","m":"CRU","x":0,"y":0.43},{"r":"IBE","s":"DJF","m":"CRU","x":0.8,"y":0.83},{"r":"IBE","s":"DJF","m":"CRU","x":1.9,"y":1.45},{"r":"IBE","s":"DJF","m":"CRU","x":2.9,"y":2.0},{"r":"IBE","s":"DJF","m":"CRU","x":4,"y":2.45},{"r":"IBE","s":"DJF","m":"CRU","x":5.2,"y":2.35},{"r":"IBE","s":"DJF","m":"CRU","x":6.6,"y":2.1},{"r":"IBE","s":"DJF","m":"CRU","x":8,"y":1.85},{"r":"IBE","s":"DJF","m":"CRU","x":9.1,"y":1.55},{"r":"IBE","s":"DJF","m":"CRU","x":10.2,"y":1.0},{"r":"IBE","s":"DJF","m":"CRU","x":11.6,"y":0.35},{"r":"IBE","s":"DJF","m":"CRU","x":12.7,"y":0.03},{"r":"IBE","s":"DJF","m":"CRU","x":13.3,"y":0},{"r":"IBE","s":"DJF","m":"CRU","x":30,"y":0},
{"r":"IBE","s":"DJF","m":"ECHOG","x":-20,"y":0},{"r":"IBE","s":"DJF","m":"ECHOG","x":1.9,"y":0},{"r":"IBE","s":"DJF","m":"ECHOG","x":3,"y":0.06},{"r":"IBE","s":"DJF","m":"ECHOG","x":4.1,"y":0.27},{"r":"IBE","s":"DJF","m":"ECHOG","x":5.2,"y":0.67},{"r":"IBE","s":"DJF","m":"ECHOG","x":6.6,"y":1.25},{"r":"IBE","s":"DJF","m":"ECHOG","x":7.7,"y":1.8},{"r":"IBE","s":"DJF","m":"ECHOG","x":8.8,"y":2.35},{"r":"IBE","s":"DJF","m":"ECHOG","x":9.9,"y":2.65},{"r":"IBE","s":"DJF","m":"ECHOG","x":11.1,"y":4.5},{"r":"IBE","s":"DJF","m":"ECHOG","x":11.9,"y":4.0},{"r":"IBE","s":"DJF","m":"ECHOG","x":13,"y":1.3},{"r":"IBE","s":"DJF","m":"ECHOG","x":14,"y":0.06},{"r":"IBE","s":"DJF","m":"ECHOG","x":14.7,"y":0},{"r":"IBE","s":"DJF","m":"ECHOG","x":30,"y":0},

{"r":"IBE","s":"JJA","m":"MM5","x":-20,"y":0},{"r":"IBE","s":"JJA","m":"MM5","x":7.7,"y":0},{"r":"IBE","s":"JJA","m":"MM5","x":8.8,"y":0.4},{"r":"IBE","s":"JJA","m":"MM5","x":10.5,"y":0.9},{"r":"IBE","s":"JJA","m":"MM5","x":12.2,"y":1.5},{"r":"IBE","s":"JJA","m":"MM5","x":13.8,"y":1.75},{"r":"IBE","s":"JJA","m":"MM5","x":14.9,"y":1.65},{"r":"IBE","s":"JJA","m":"MM5","x":16.1,"y":1.6},{"r":"IBE","s":"JJA","m":"MM5","x":17.2,"y":1.8},{"r":"IBE","s":"JJA","m":"MM5","x":18,"y":2.45},{"r":"IBE","s":"JJA","m":"MM5","x":18.8,"y":2.4},{"r":"IBE","s":"JJA","m":"MM5","x":19.9,"y":1.65},{"r":"IBE","s":"JJA","m":"MM5","x":20.8,"y":0.8},{"r":"IBE","s":"JJA","m":"MM5","x":21.9,"y":0.23},{"r":"IBE","s":"JJA","m":"MM5","x":23.6,"y":0.04},{"r":"IBE","s":"JJA","m":"MM5","x":24.7,"y":0},{"r":"IBE","s":"JJA","m":"MM5","x":30,"y":0},
{"r":"IBE","s":"JJA","m":"CRU","x":-20,"y":0},{"r":"IBE","s":"JJA","m":"CRU","x":11.3,"y":0},{"r":"IBE","s":"JJA","m":"CRU","x":13.3,"y":0.23},{"r":"IBE","s":"JJA","m":"CRU","x":14.4,"y":0.7},{"r":"IBE","s":"JJA","m":"CRU","x":15.8,"y":1.3},{"r":"IBE","s":"JJA","m":"CRU","x":16.9,"y":1.7},{"r":"IBE","s":"JJA","m":"CRU","x":18.1,"y":1.95},{"r":"IBE","s":"JJA","m":"CRU","x":18.8,"y":1.95},{"r":"IBE","s":"JJA","m":"CRU","x":19.9,"y":1.7},{"r":"IBE","s":"JJA","m":"CRU","x":21,"y":2.1},{"r":"IBE","s":"JJA","m":"CRU","x":21.9,"y":2.85},{"r":"IBE","s":"JJA","m":"CRU","x":22.7,"y":2.75},{"r":"IBE","s":"JJA","m":"CRU","x":23.8,"y":1.55},{"r":"IBE","s":"JJA","m":"CRU","x":24.9,"y":0.45},{"r":"IBE","s":"JJA","m":"CRU","x":26.1,"y":0.07},{"r":"IBE","s":"JJA","m":"CRU","x":27.2,"y":0},{"r":"IBE","s":"JJA","m":"CRU","x":30,"y":0},
{"r":"IBE","s":"JJA","m":"ECHOG","x":-20,"y":0},{"r":"IBE","s":"JJA","m":"ECHOG","x":12.4,"y":0},{"r":"IBE","s":"JJA","m":"ECHOG","x":13.6,"y":0.3},{"r":"IBE","s":"JJA","m":"ECHOG","x":14.7,"y":1.0},{"r":"IBE","s":"JJA","m":"ECHOG","x":15.2,"y":2.15},{"r":"IBE","s":"JJA","m":"ECHOG","x":16.1,"y":4.45},{"r":"IBE","s":"JJA","m":"ECHOG","x":17,"y":5.9},{"r":"IBE","s":"JJA","m":"ECHOG","x":17.7,"y":4.6},{"r":"IBE","s":"JJA","m":"ECHOG","x":18.6,"y":2.7},{"r":"IBE","s":"JJA","m":"ECHOG","x":19.7,"y":1.4},{"r":"IBE","s":"JJA","m":"ECHOG","x":20.8,"y":0.6},{"r":"IBE","s":"JJA","m":"ECHOG","x":21.9,"y":0.13},{"r":"IBE","s":"JJA","m":"ECHOG","x":22.7,"y":0},{"r":"IBE","s":"JJA","m":"ECHOG","x":30,"y":0}
]},
"bounds":"flush",
"columns":2,
"spacing":{"row":0,"column":6},
"concat":[
  {"width":300,"height":105,"title":{"text":"TUR","offset":-65},"transform":[{"filter":"datum.r=='TUR'&&datum.s=='DJF'"}],"mark":"line","encoding":{"x":{"field":"x","type":"quantitative","scale":{"domain":[-20,30],"nice":false},"axis":{"orient":"top","title":"DJF","titleFontSize":20,"titleFontWeight":"normal","titleX":144,"titleY":-12,"titleBaseline":"alphabetic","titleAlign":"center"}},"y":{"field":"y","type":"quantitative","scale":{"domain":[0,10],"nice":false},"axis":{"title":null,"values":[0,1,2,3,4,5,6,7,8,9,10]}},"color":{"field":"m","type":"nominal","title":null,"scale":{"domain":["MM5","CRU","ECHOG"],"range":["#0000ff","#ff0000","#00ff00"]}}}},
  {"width":300,"height":105,"transform":[{"filter":"datum.r=='TUR'&&datum.s=='JJA'"}],"mark":"line","encoding":{"x":{"field":"x","type":"quantitative","scale":{"domain":[-20,30],"nice":false},"axis":{"orient":"top","title":"JJA","titleFontSize":20,"titleFontWeight":"normal","titleX":157,"titleY":-11,"titleBaseline":"alphabetic","titleAlign":"center"}},"y":{"field":"y","type":"quantitative","scale":{"domain":[0,7],"nice":false},"axis":{"title":null,"values":[0,1,2,3,4,5,6,7]}},"color":{"field":"m","type":"nominal","title":null,"scale":{"domain":["MM5","CRU","ECHOG"],"range":["#0000ff","#ff0000","#00ff00"]}}}},
  {"width":300,"height":105,"title":{"text":"BAL","offset":-37},"transform":[{"filter":"datum.r=='BAL'&&datum.s=='DJF'"}],"mark":"line","encoding":{"x":{"field":"x","type":"quantitative","scale":{"domain":[-20,30],"nice":false},"axis":{"title":null}},"y":{"field":"y","type":"quantitative","scale":{"domain":[0,9],"nice":false},"axis":{"title":null,"values":[0,1,2,3,4,5,6,7,8,9]}},"color":{"field":"m","type":"nominal","title":null,"scale":{"domain":["MM5","CRU","ECHOG"],"range":["#0000ff","#ff0000","#00ff00"]}}}},
  {"width":300,"height":105,"transform":[{"filter":"datum.r=='BAL'&&datum.s=='JJA'"}],"mark":"line","encoding":{"x":{"field":"x","type":"quantitative","scale":{"domain":[-20,30],"nice":false},"axis":{"title":null}},"y":{"field":"y","type":"quantitative","scale":{"domain":[0,5],"nice":false},"axis":{"title":null,"values":[0,1,2,3,4,5]}},"color":{"field":"m","type":"nominal","title":null,"scale":{"domain":["MM5","CRU","ECHOG"],"range":["#0000ff","#ff0000","#00ff00"]}}}},
  {"width":300,"height":105,"title":{"text":"CAR","offset":-41},"transform":[{"filter":"datum.r=='CAR'&&datum.s=='DJF'"}],"mark":"line","encoding":{"x":{"field":"x","type":"quantitative","scale":{"domain":[-20,30],"nice":false},"axis":{"title":null}},"y":{"field":"y","type":"quantitative","scale":{"domain":[0,9],"nice":false},"axis":{"title":null,"values":[0,1,2,3,4,5,6,7,8,9]}},"color":{"field":"m","type":"nominal","title":null,"scale":{"domain":["MM5","CRU","ECHOG"],"range":["#0000ff","#ff0000","#00ff00"]}}}},
  {"width":300,"height":105,"transform":[{"filter":"datum.r=='CAR'&&datum.s=='JJA'"}],"mark":"line","encoding":{"x":{"field":"x","type":"quantitative","scale":{"domain":[-20,30],"nice":false},"axis":{"title":null}},"y":{"field":"y","type":"quantitative","scale":{"domain":[0,7],"nice":false},"axis":{"title":null,"values":[0,1,2,3,4,5,6,7]}},"color":{"field":"m","type":"nominal","title":null,"scale":{"domain":["MM5","CRU","ECHOG"],"range":["#0000ff","#ff0000","#00ff00"]}}}},
  {"width":300,"height":105,"title":{"text":"SCA","offset":-35.5},"transform":[{"filter":"datum.r=='SCA'&&datum.s=='DJF'"}],"mark":"line","encoding":{"x":{"field":"x","type":"quantitative","scale":{"domain":[-20,30],"nice":false},"axis":{"title":null}},"y":{"field":"y","type":"quantitative","scale":{"domain":[0,10],"nice":false},"axis":{"title":null,"values":[0,1,2,3,4,5,6,7,8,9,10]}},"color":{"field":"m","type":"nominal","title":null,"scale":{"domain":["MM5","CRU","ECHOG"],"range":["#0000ff","#ff0000","#00ff00"]}}}},
  {"width":300,"height":105,"transform":[{"filter":"datum.r=='SCA'&&datum.s=='JJA'"}],"mark":"line","encoding":{"x":{"field":"x","type":"quantitative","scale":{"domain":[-20,30],"nice":false},"axis":{"title":null}},"y":{"field":"y","type":"quantitative","scale":{"domain":[0,5],"nice":false},"axis":{"title":null,"values":[0,1,2,3,4,5]}},"color":{"field":"m","type":"nominal","title":null,"scale":{"domain":["MM5","CRU","ECHOG"],"range":["#0000ff","#ff0000","#00ff00"]}}}},
  {"width":300,"height":105,"title":{"text":"EEU","offset":-44.5},"transform":[{"filter":"datum.r=='EEU'&&datum.s=='DJF'"}],"mark":"line","encoding":{"x":{"field":"x","type":"quantitative","scale":{"domain":[-20,30],"nice":false},"axis":{"title":null}},"y":{"field":"y","type":"quantitative","scale":{"domain":[0,9],"nice":false},"axis":{"title":null,"values":[0,1,2,3,4,5,6,7,8,9]}},"color":{"field":"m","type":"nominal","title":null,"scale":{"domain":["MM5","CRU","ECHOG"],"range":["#0000ff","#ff0000","#00ff00"]}}}},
  {"width":300,"height":105,"transform":[{"filter":"datum.r=='EEU'&&datum.s=='JJA'"}],"mark":"line","encoding":{"x":{"field":"x","type":"quantitative","scale":{"domain":[-20,30],"nice":false},"axis":{"title":null}},"y":{"field":"y","type":"quantitative","scale":{"domain":[0,7],"nice":false},"axis":{"title":null,"values":[0,1,2,3,4,5,6,7]}},"color":{"field":"m","type":"nominal","title":null,"scale":{"domain":["MM5","CRU","ECHOG"],"range":["#0000ff","#ff0000","#00ff00"]}}}},
  {"width":300,"height":105,"title":{"text":"CEU","offset":-47.5},"transform":[{"filter":"datum.r=='CEU'&&datum.s=='DJF'"}],"mark":"line","encoding":{"x":{"field":"x","type":"quantitative","scale":{"domain":[-20,30],"nice":false},"axis":{"title":null}},"y":{"field":"y","type":"quantitative","scale":{"domain":[0,5],"nice":false},"axis":{"title":null,"values":[0,1,2,3,4,5]}},"color":{"field":"m","type":"nominal","title":null,"scale":{"domain":["MM5","CRU","ECHOG"],"range":["#0000ff","#ff0000","#00ff00"]}}}},
  {"width":300,"height":105,"transform":[{"filter":"datum.r=='CEU'&&datum.s=='JJA'"}],"mark":"line","encoding":{"x":{"field":"x","type":"quantitative","scale":{"domain":[-20,30],"nice":false},"axis":{"title":null}},"y":{"field":"y","type":"quantitative","scale":{"domain":[0,8],"nice":false},"axis":{"title":null,"values":[0,1,2,3,4,5,6,7,8]}},"color":{"field":"m","type":"nominal","title":null,"scale":{"domain":["MM5","CRU","ECHOG"],"range":["#0000ff","#ff0000","#00ff00"]}}}},
  {"width":300,"height":105,"title":{"text":"ALP","offset":-35.5},"transform":[{"filter":"datum.r=='ALP'&&datum.s=='DJF'"}],"mark":"line","encoding":{"x":{"field":"x","type":"quantitative","scale":{"domain":[-20,30],"nice":false},"axis":{"title":null}},"y":{"field":"y","type":"quantitative","scale":{"domain":[0,9],"nice":false},"axis":{"title":null,"values":[0,1,2,3,4,5,6,7,8,9]}},"color":{"field":"m","type":"nominal","title":null,"scale":{"domain":["MM5","CRU","ECHOG"],"range":["#0000ff","#ff0000","#00ff00"]}}}},
  {"width":300,"height":105,"transform":[{"filter":"datum.r=='ALP'&&datum.s=='JJA'"}],"mark":"line","encoding":{"x":{"field":"x","type":"quantitative","scale":{"domain":[-20,30],"nice":false},"axis":{"title":null}},"y":{"field":"y","type":"quantitative","scale":{"domain":[0,7],"nice":false},"axis":{"title":null,"values":[0,1,2,3,4,5,6,7]}},"color":{"field":"m","type":"nominal","title":null,"scale":{"domain":["MM5","CRU","ECHOG"],"range":["#0000ff","#ff0000","#00ff00"]}}}},
  {"width":300,"height":105,"title":{"text":"BRI","offset":-40},"transform":[{"filter":"datum.r=='BRI'&&datum.s=='DJF'"}],"mark":"line","encoding":{"x":{"field":"x","type":"quantitative","scale":{"domain":[-20,30],"nice":false},"axis":{"title":null}},"y":{"field":"y","type":"quantitative","scale":{"domain":[0,6],"nice":false},"axis":{"title":null,"values":[0,1,2,3,4,5,6]}},"color":{"field":"m","type":"nominal","title":null,"scale":{"domain":["MM5","CRU","ECHOG"],"range":["#0000ff","#ff0000","#00ff00"]}}}},
  {"width":300,"height":105,"transform":[{"filter":"datum.r=='BRI'&&datum.s=='JJA'"}],"mark":"line","encoding":{"x":{"field":"x","type":"quantitative","scale":{"domain":[-20,30],"nice":false},"axis":{"title":null}},"y":{"field":"y","type":"quantitative","scale":{"domain":[0,8],"nice":false},"axis":{"title":null,"values":[0,1,2,3,4,5,6,7,8]}},"color":{"field":"m","type":"nominal","title":null,"scale":{"domain":["MM5","CRU","ECHOG"],"range":["#0000ff","#ff0000","#00ff00"]}}}},
  {"width":300,"height":105,"title":{"text":"IBE","offset":-36.5},"transform":[{"filter":"datum.r=='IBE'&&datum.s=='DJF'"}],"mark":"line","encoding":{"x":{"field":"x","type":"quantitative","scale":{"domain":[-20,30],"nice":false},"axis":{"title":"SAT (C)","labels":true,"labelExpr":"datum.value==30?'':(datum.value<0?'-'+abs(datum.value):''+datum.value)","titleX":293,"titleY":43,"titleAlign":"center","titleBaseline":"alphabetic","titleFontSize":19,"titleFontWeight":"normal"}},"y":{"field":"y","type":"quantitative","scale":{"domain":[0,5],"nice":false},"axis":{"title":null,"values":[0,1,2,3,4,5]}},"color":{"field":"m","type":"nominal","title":null,"scale":{"domain":["MM5","CRU","ECHOG"],"range":["#0000ff","#ff0000","#00ff00"]}}}},
  {"width":300,"height":105,"transform":[{"filter":"datum.r=='IBE'&&datum.s=='JJA'"}],"mark":"line","encoding":{"x":{"field":"x","type":"quantitative","scale":{"domain":[-20,30],"nice":false},"axis":{"title":null,"labels":true,"labelExpr":"datum.value==-20?'':(datum.value<0?'-'+abs(datum.value):''+datum.value)"}},"y":{"field":"y","type":"quantitative","scale":{"domain":[0,6],"nice":false},"axis":{"title":null,"values":[0,1,2,3,4,5,6]}},"color":{"field":"m","type":"nominal","title":null,"scale":{"domain":["MM5","CRU","ECHOG"],"range":["#0000ff","#ff0000","#00ff00"]}}}}
],
"config":{
 "font":"DejaVu Sans",
 "view":{"stroke":"#000000","strokeWidth":1},
 "line":{"strokeWidth":1},
 "title":{"anchor":"start","fontSize":26,"fontWeight":"normal","font":"DejaVu Sans","color":"#000000","baseline":"alphabetic","dx":9,"frame":"group"},
 "axis":{"domain":false,"grid":true,"gridColor":"#888888","gridDash":[4,2],"gridWidth":1,"gridOpacity":0.8,"ticks":true,"tickColor":"#000000","tickSize":-3,"labelFont":"DejaVu Sans","labelFontSize":14,"labelColor":"#000000","labelFlush":false,"labelOverlap":false,"labelPadding":8,"titleFont":"DejaVu Sans","titleColor":"#000000"},
 "axisX":{"labels":false},
 "axisY":{"labels":false},
 "legend":{"orient":"none","legendX":163,"legendY":1001,"direction":"horizontal","symbolType":"M-1.7,0H1.7","symbolSize":400,"symbolStrokeWidth":1,"labelFontSize":13,"labelColor":"#000000","labelFont":"DejaVu Sans","labelAlign":"right","labelOffset":-33,"symbolOffset":44,"strokeColor":"#555555","padding":5,"columnPadding":17}
}
}
